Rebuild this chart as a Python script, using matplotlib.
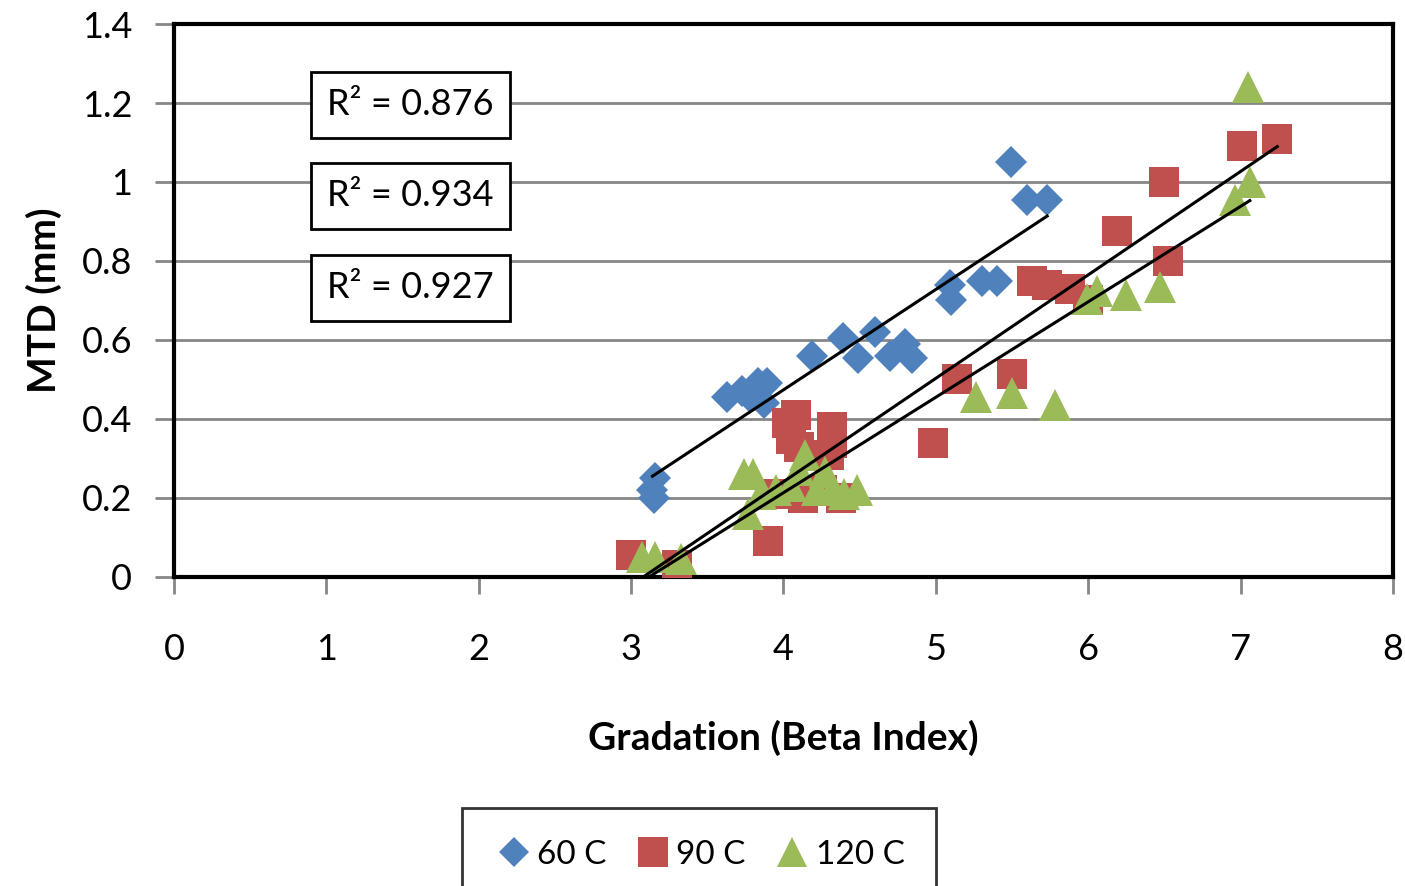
import numpy as np
import matplotlib
matplotlib.use("Agg")
import matplotlib.pyplot as plt

plt.rcParams['font.family'] = ['Lato', 'DejaVu Sans']

# Beta index (x) and mean texture depth (y) for each temperature
x_60 = [3.16, 3.14, 3.15, 3.63, 3.73, 3.78, 3.83, 3.89, 3.87, 4.19, 4.39, 4.49,
        4.60, 4.70, 4.80, 4.84, 5.09, 5.10, 5.30, 5.40, 5.49, 5.60, 5.73]
y_60 = [0.25, 0.22, 0.20, 0.455, 0.47, 0.455, 0.49, 0.49, 0.44, 0.56, 0.605, 0.555,
        0.62, 0.56, 0.59, 0.555, 0.74, 0.70, 0.75, 0.75, 1.05, 0.955, 0.955]

x_90 = [3.00, 3.30, 3.90, 3.95, 4.02, 4.08, 4.05, 4.10, 4.13, 4.25, 4.32, 4.32, 4.30,
        4.38, 4.98, 5.14, 5.50, 5.63, 5.73, 5.88, 6.00, 6.19, 6.50, 6.52, 7.01, 7.24]
y_90 = [0.055, 0.03, 0.09, 0.21, 0.39, 0.41, 0.35, 0.33, 0.20, 0.22, 0.38, 0.34, 0.31,
        0.20, 0.34, 0.50, 0.515, 0.75, 0.74, 0.73, 0.70, 0.875, 1.00, 0.80, 1.09, 1.11]

x_120 = [3.07, 3.16, 3.33, 3.74, 3.80, 3.77, 3.85, 3.95, 4.05, 4.10, 4.14, 4.22, 4.27,
         4.32, 4.40, 4.48, 5.26, 5.50, 5.78, 5.99, 6.06, 6.25, 6.47, 6.96, 7.06, 7.05]
y_120 = [0.05, 0.05, 0.045, 0.26, 0.26, 0.16, 0.21, 0.22, 0.23, 0.27, 0.31, 0.22, 0.265,
         0.22, 0.21, 0.22, 0.455, 0.465, 0.435, 0.705, 0.725, 0.715, 0.735, 0.955, 1.00, 1.24]

series_labels = ['60 C', '90 C', '120 C']
r2_labels = ['R² = 0.876', 'R² = 0.934', 'R² = 0.927']

colors = ['#4F81BD', '#C0504D', '#9BBB59']
markers = ['D', 's', '^']
sizes = [16, 22, 23]

fig = plt.figure(figsize=(14.05, 8.86), dpi=100)
ax = fig.add_axes([0.1238, 0.3488, 0.8677, 0.6241])

data = [(x_60, y_60), (x_90, y_90), (x_120, y_120)]
for (xs, ys), lab, c, m, s in zip(data, series_labels, colors, markers, sizes):
    ax.plot(xs, ys, linestyle='none', marker=m, markersize=s, color=c,
            markeredgewidth=0, label=lab, zorder=3)

# linear trendlines over each series' x range
for xs, ys in data:
    k, b = np.polyfit(xs, ys, 1)
    xx = np.array([min(xs), max(xs)])
    ax.plot(xx, k * xx + b, color='black', lw=2.2, zorder=4)

ax.set_xlim(0, 8)
ax.set_ylim(0, 1.4)
ax.set_xticks(range(0, 9))
ax.set_yticks(np.arange(0, 1.41, 0.2))
ax.set_yticklabels(['0', '0.2', '0.4', '0.6', '0.8', '1', '1.2', '1.4'])
ax.yaxis.grid(True, color='#868686', lw=2)
ax.set_axisbelow(True)

for sp in ax.spines.values():
    sp.set_color('black')
    sp.set_linewidth(3)

ax.tick_params(axis='x', direction='out', length=12, width=2, color='#868686',
               labelsize=26, pad=28)
ax.tick_params(axis='y', direction='out', length=14, width=2, color='#868686',
               labelsize=26, pad=16)

ax.set_xlabel('Gradation (Beta Index)', fontsize=28, fontweight='bold', labelpad=39)
ax.set_ylabel('MTD (mm)', fontsize=28, fontweight='bold', labelpad=14)

for yy, txt in zip([1.195, 0.965, 0.732], r2_labels):
    ax.text(1.55, yy, txt, fontsize=26, ha='center', va='center', zorder=5,
            bbox=dict(boxstyle='square,pad=0.45', fc='white', ec='black', lw=2))

leg = fig.legend(loc='upper center', bbox_to_anchor=(0.4975, 0.088), ncol=3,
                 fontsize=24, frameon=True, fancybox=False, edgecolor='black',
                 handletextpad=0.1, columnspacing=0.8, borderpad=0.95,
                 borderaxespad=0, markerscale=0.95, handlelength=1.2)
leg.get_frame().set_linewidth(2)

fig.savefig('out.png', dpi=100)
